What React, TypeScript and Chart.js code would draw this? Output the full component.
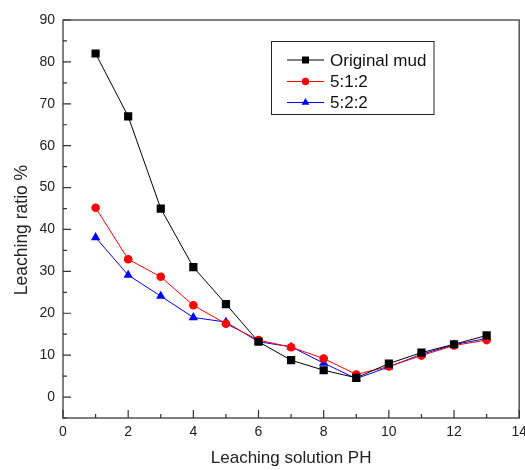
import React, { useEffect, useRef } from "react";
import { Chart, registerables } from "chart.js";

Chart.register(...registerables);

const phValues = [1, 2, 3, 4, 5, 6, 7, 8, 9, 10, 11, 12, 13];
const originalMud = [82, 67, 45, 31, 22.2, 13.2, 8.8, 6.4, 4.6, 8.0, 10.6, 12.6, 14.7];
const ratio512 = [45.2, 32.9, 28.7, 21.9, 17.5, 13.6, 11.9, 9.2, 5.4, 7.3, 9.9, 12.3, 13.6];
const ratio522 = [38.1, 29.1, 24.1, 19.0, 17.9, 13.2, 12.0, 8.1, 4.4, 7.2, 10.2, 12.5, 14.0];
const seriesNames = ["Original mud", "5:1:2", "5:2:2"];

const xMajorTicks = [0, 2, 4, 6, 8, 10, 12, 14];
const xMinorTicks = [1, 3, 5, 7, 9, 11, 13];
const yMajorTicks = [0, 10, 20, 30, 40, 50, 60, 70, 80, 90];
const yMinorTicks = [-5, 5, 15, 25, 35, 45, 55, 65, 75, 85];

const FONT = "'Liberation Sans', Arial, sans-serif";

const drawMarker = (ctx: CanvasRenderingContext2D, style: string, x: number, y: number, r: number, color: string) => {
  ctx.save();
  ctx.fillStyle = color;
  ctx.beginPath();
  if (style === "rect") {
    const s = Math.SQRT1_2 * r;
    ctx.rect(x - s, y - s, 2 * s, 2 * s);
  } else if (style === "circle") {
    ctx.arc(x, y, r, 0, Math.PI * 2);
  } else {
    ctx.moveTo(x, y - r);
    ctx.lineTo(x + Math.sin((2 * Math.PI) / 3) * r, y + r / 2);
    ctx.lineTo(x - Math.sin((2 * Math.PI) / 3) * r, y + r / 2);
    ctx.closePath();
  }
  ctx.fill();
  ctx.restore();
};

const framePlugin = {
  id: "frameTicks",
  beforeDatasetsDraw(chart: any) {
    const { ctx, chartArea } = chart;
    const xs = chart.scales.x;
    const ys = chart.scales.y;
    ctx.save();
    ctx.strokeStyle = "#555";
    ctx.lineWidth = 1.5;
    ctx.strokeRect(chartArea.left, chartArea.top, chartArea.right - chartArea.left, chartArea.bottom - chartArea.top);
    ctx.lineWidth = 1.2;
    ctx.strokeStyle = "#333";
    ctx.beginPath();
    xMajorTicks.forEach((v) => {
      const px = xs.getPixelForValue(v);
      ctx.moveTo(px, chartArea.bottom);
      ctx.lineTo(px, chartArea.bottom - 8);
    });
    xMinorTicks.forEach((v) => {
      const px = xs.getPixelForValue(v);
      ctx.moveTo(px, chartArea.bottom);
      ctx.lineTo(px, chartArea.bottom - 4);
    });
    yMajorTicks.forEach((v) => {
      const py = ys.getPixelForValue(v);
      ctx.moveTo(chartArea.left, py);
      ctx.lineTo(chartArea.left + 8, py);
    });
    yMinorTicks.forEach((v) => {
      const py = ys.getPixelForValue(v);
      ctx.moveTo(chartArea.left, py);
      ctx.lineTo(chartArea.left + 4, py);
    });
    ctx.stroke();
    ctx.restore();
  },
  afterDraw(chart: any) {
    const { ctx } = chart;
    ctx.save();
    // y axis title
    ctx.translate(22, 230);
    ctx.rotate(-Math.PI / 2);
    ctx.fillStyle = "#222";
    ctx.font = `17.5px ${FONT}`;
    ctx.textAlign = "center";
    ctx.textBaseline = "middle";
    ctx.fillText("Leaching ratio %", 0, 0);
    ctx.restore();

    // legend
    ctx.save();
    ctx.strokeStyle = "#222";
    ctx.lineWidth = 1;
    ctx.strokeRect(271.5, 41.5, 162.5, 73);
    const rows = [60, 81.5, 102.5];
    chart.data.datasets.forEach((ds: any, i: number) => {
      const y = rows[i];
      ctx.strokeStyle = ds.borderColor;
      ctx.lineWidth = 1;
      ctx.beginPath();
      ctx.moveTo(287, y);
      ctx.lineTo(324, y);
      ctx.stroke();
      drawMarker(ctx, ds.pointStyle, 305.5, y, ds.pointRadius * 0.85, ds.pointBackgroundColor);
      ctx.fillStyle = "#111";
      ctx.font = `17px ${FONT}`;
      ctx.textAlign = "left";
      ctx.textBaseline = "middle";
      ctx.fillText(ds.label, 330, y + 1);
    });
    ctx.restore();
  },
};

export default function App() {
  const canvasRef = useRef<HTMLCanvasElement | null>(null);

  useEffect(() => {
    if (!canvasRef.current) return;
    const toPts = (arr: number[]) => phValues.map((x, i) => ({ x, y: arr[i] }));
    const chart = new Chart(canvasRef.current, {
      type: "line",
      data: {
        datasets: [
          {
            label: seriesNames[0],
            data: toPts(originalMud),
            borderColor: "#000000",
            backgroundColor: "#000000",
            pointBackgroundColor: "#000000",
            borderWidth: 1,
            pointStyle: "rect",
            pointRadius: 5.8,
            pointBorderWidth: 0,
          },
          {
            label: seriesNames[1],
            data: toPts(ratio512),
            borderColor: "#ff0000",
            backgroundColor: "#ff0000",
            pointBackgroundColor: "#ff0000",
            borderWidth: 1,
            pointStyle: "circle",
            pointRadius: 4.3,
            pointBorderWidth: 0,
          },
          {
            label: seriesNames[2],
            data: toPts(ratio522),
            borderColor: "#0000ff",
            backgroundColor: "#0000ff",
            pointBackgroundColor: "#0000ff",
            borderWidth: 1,
            pointStyle: "triangle",
            pointRadius: 5.4,
            pointBorderWidth: 0,
          },
        ],
      },
      options: {
        responsive: false,
        animation: false,
        layout: { padding: { top: 20, right: 4.5, left: 0, bottom: 0 } },
        plugins: {
          legend: { display: false },
          tooltip: { enabled: false },
        },
        scales: {
          x: {
            type: "linear",
            min: 0,
            max: 14,
            grid: { display: false, drawTicks: false },
            border: { display: false },
            ticks: {
              autoSkip: false,
              maxRotation: 0,
              padding: 6,
              color: "#222",
              font: { family: FONT, size: 14 },
            },
            afterBuildTicks: (scale: any) => {
              scale.ticks = xMajorTicks.map((v) => ({ value: v }));
            },
            afterFit: (scale: any) => {
              scale.height = 52;
              scale.paddingLeft = 0;
              scale.paddingRight = 0;
            },
            title: {
              display: true,
              text: "Leaching solution PH",
              color: "#222",
              font: { family: FONT, size: 17 },
              padding: { top: 0, bottom: 1 },
            },
          },
          y: {
            type: "linear",
            min: -5,
            max: 90,
            grid: { display: false, drawTicks: false },
            border: { display: false },
            ticks: {
              padding: 8,
              color: "#222",
              font: { family: FONT, size: 14 },
            },
            afterBuildTicks: (scale: any) => {
              scale.ticks = yMajorTicks.map((v) => ({ value: v }));
            },
            afterFit: (scale: any) => {
              scale.width = 63;
              scale.paddingTop = 0;
              scale.paddingBottom = 0;
            },
          },
        },
      },
      plugins: [framePlugin],
    });
    return () => chart.destroy();
  }, []);

  return (
    <div style={{ position: "fixed", left: 0, top: 0, width: 525, height: 470, background: "#fff" }}>
      <canvas ref={canvasRef} width={525} height={470} />
    </div>
  );
}
